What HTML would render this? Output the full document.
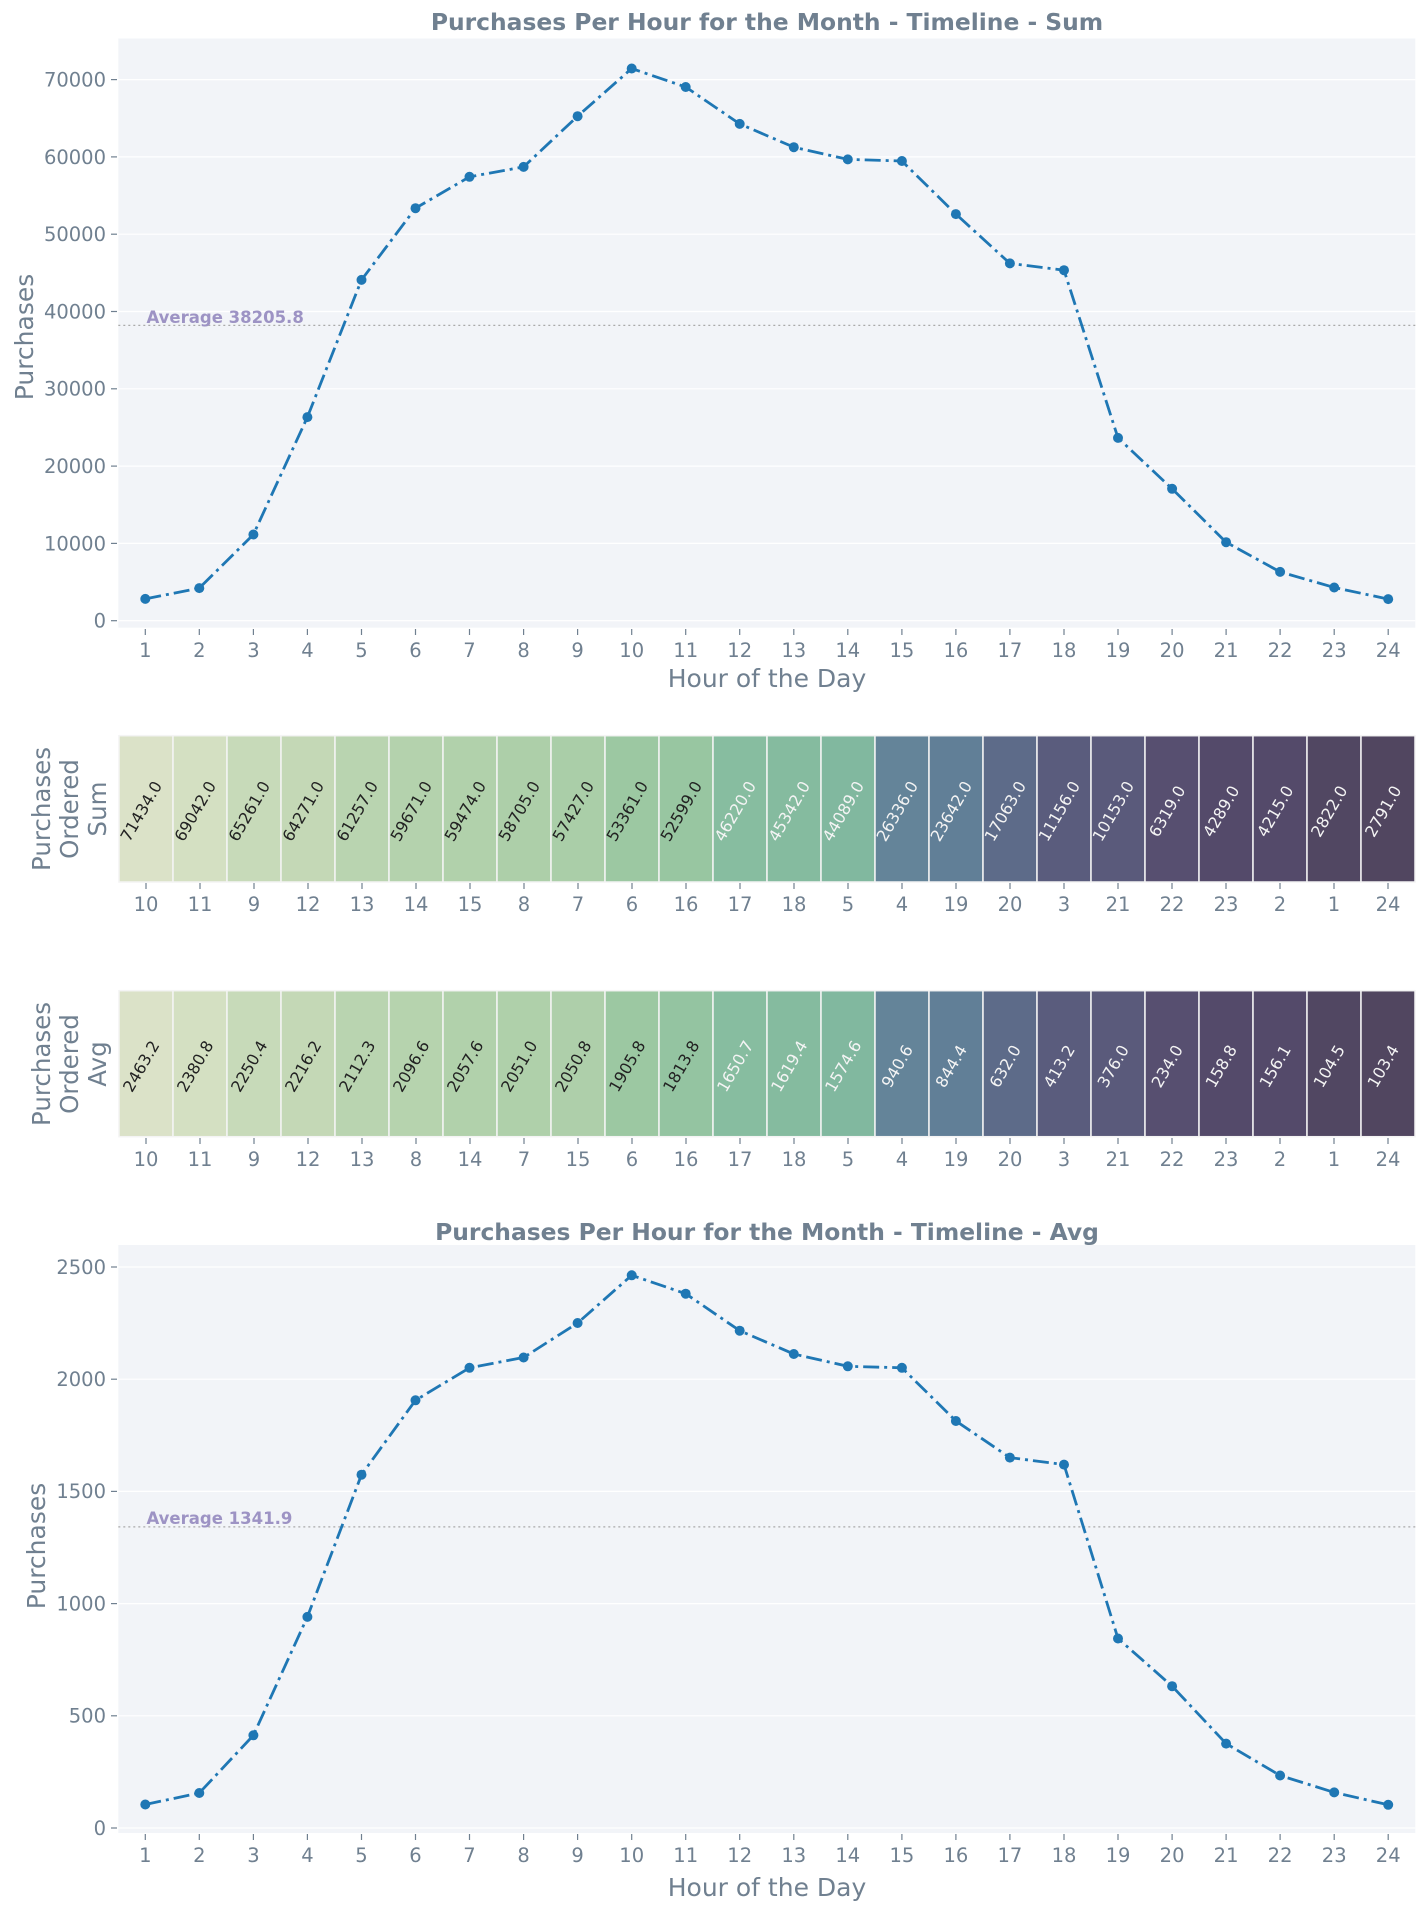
<!DOCTYPE html>
<html><head><meta charset="utf-8"><style>
html,body{margin:0;padding:0;background:#fff}
svg{display:block}
text{font-family:"DejaVu Sans","Liberation Sans",sans-serif}
.tk{fill:#708090;font-size:19.5px}
.ax{fill:#708090;font-size:25px}
.hl{fill:#708090;font-size:24.5px}
.ttl{fill:#708090;font-size:23.4px;font-weight:bold}
.grid{stroke:#fff;stroke-width:1.2}
.tick{stroke:#708090;stroke-width:1.2}
.ln{fill:none;stroke:#1f77b4;stroke-width:2.8;stroke-dasharray:16 5 3 5}
.avg{stroke:#aaa;stroke-width:1.3;stroke-dasharray:2 3}
.avgt{fill:#9d93c4;font-size:16.5px;font-weight:bold}
.hv{font-size:16px}
</style></head><body>
<svg width="1428" height="1907" viewBox="0 0 1428 1907" xmlns="http://www.w3.org/2000/svg">
<!-- TOP CHART -->
<text class="ttl" x="767" y="30" text-anchor="middle">Purchases Per Hour for the Month - Timeline - Sum</text>
<rect x="118.3" y="38.5" width="1297" height="589.2" fill="#f2f4f8"/>
<g class="grid">
<line x1="118.3" x2="1415.3" y1="620.7" y2="620.7"/><line x1="118.3" x2="1415.3" y1="543.4" y2="543.4"/>
<line x1="118.3" x2="1415.3" y1="466.1" y2="466.1"/><line x1="118.3" x2="1415.3" y1="388.8" y2="388.8"/>
<line x1="118.3" x2="1415.3" y1="311.5" y2="311.5"/><line x1="118.3" x2="1415.3" y1="234.2" y2="234.2"/>
<line x1="118.3" x2="1415.3" y1="156.9" y2="156.9"/><line x1="118.3" x2="1415.3" y1="79.6" y2="79.6"/>
</g>
<g class="tick">
<line x1="111" x2="117" y1="620.7" y2="620.7"/><line x1="111" x2="117" y1="543.4" y2="543.4"/><line x1="111" x2="117" y1="466.1" y2="466.1"/><line x1="111" x2="117" y1="388.8" y2="388.8"/><line x1="111" x2="117" y1="311.5" y2="311.5"/><line x1="111" x2="117" y1="234.2" y2="234.2"/><line x1="111" x2="117" y1="156.9" y2="156.9"/><line x1="111" x2="117" y1="79.6" y2="79.6"/>
</g>
<g class="tk" text-anchor="end">
<text x="106" y="627.5">0</text><text x="106" y="550.5">10000</text><text x="106" y="473">20000</text><text x="106" y="395.5">30000</text><text x="106" y="318.5">40000</text><text x="106" y="241">50000</text><text x="106" y="164">60000</text><text x="106" y="86.5">70000</text>
</g>
<g class="tick">
<line x1="145.3" x2="145.3" y1="629" y2="635"/><line x1="199.3" x2="199.3" y1="629" y2="635"/><line x1="253.4" x2="253.4" y1="629" y2="635"/><line x1="307.4" x2="307.4" y1="629" y2="635"/><line x1="361.5" x2="361.5" y1="629" y2="635"/><line x1="415.5" x2="415.5" y1="629" y2="635"/><line x1="469.5" x2="469.5" y1="629" y2="635"/><line x1="523.6" x2="523.6" y1="629" y2="635"/><line x1="577.6" x2="577.6" y1="629" y2="635"/><line x1="631.7" x2="631.7" y1="629" y2="635"/><line x1="685.7" x2="685.7" y1="629" y2="635"/><line x1="739.7" x2="739.7" y1="629" y2="635"/><line x1="793.8" x2="793.8" y1="629" y2="635"/><line x1="847.8" x2="847.8" y1="629" y2="635"/><line x1="901.9" x2="901.9" y1="629" y2="635"/><line x1="955.9" x2="955.9" y1="629" y2="635"/><line x1="1009.9" x2="1009.9" y1="629" y2="635"/><line x1="1064" x2="1064" y1="629" y2="635"/><line x1="1118" x2="1118" y1="629" y2="635"/><line x1="1172.1" x2="1172.1" y1="629" y2="635"/><line x1="1226.1" x2="1226.1" y1="629" y2="635"/><line x1="1280.1" x2="1280.1" y1="629" y2="635"/><line x1="1334.2" x2="1334.2" y1="629" y2="635"/><line x1="1388.2" x2="1388.2" y1="629" y2="635"/>
</g>
<g class="tk" text-anchor="middle">
<text x="145.3" y="657">1</text><text x="199.3" y="657">2</text><text x="253.4" y="657">3</text><text x="307.4" y="657">4</text><text x="361.5" y="657">5</text><text x="415.5" y="657">6</text><text x="469.5" y="657">7</text><text x="523.6" y="657">8</text><text x="577.6" y="657">9</text><text x="631.7" y="657">10</text><text x="685.7" y="657">11</text><text x="739.7" y="657">12</text><text x="793.8" y="657">13</text><text x="847.8" y="657">14</text><text x="901.9" y="657">15</text><text x="955.9" y="657">16</text><text x="1009.9" y="657">17</text><text x="1064" y="657">18</text><text x="1118" y="657">19</text><text x="1172.1" y="657">20</text><text x="1226.1" y="657">21</text><text x="1280.1" y="657">22</text><text x="1334.2" y="657">23</text><text x="1388.2" y="657">24</text>
</g>
<text class="ax" x="767" y="687" text-anchor="middle">Hour of the Day</text>
<text class="ax" transform="translate(33,337) rotate(-90)" text-anchor="middle">Purchases</text>
<line class="avg" x1="118.3" x2="1415.3" y1="325.4" y2="325.4"/>
<text class="avgt" x="146.5" y="323">Average 38205.8</text>
<polyline class="ln" points="145.3,598.9 199.3,588.1 253.4,534.5 307.4,417.1 361.5,279.9 415.5,208.2 469.5,176.8 523.6,166.9 577.6,116.2 631.7,68.5 685.7,87 739.7,123.9 793.8,147.2 847.8,159.4 901.9,161 955.9,214.1 1009.9,263.4 1064,270.2 1118,437.9 1172.1,488.8 1226.1,542.2 1280.1,571.9 1334.2,587.5 1388.2,599.1"/>
<g fill="#1f77b4">
<circle cx="145.3" cy="598.9" r="5"/><circle cx="199.3" cy="588.1" r="5"/><circle cx="253.4" cy="534.5" r="5"/><circle cx="307.4" cy="417.1" r="5"/><circle cx="361.5" cy="279.9" r="5"/><circle cx="415.5" cy="208.2" r="5"/><circle cx="469.5" cy="176.8" r="5"/><circle cx="523.6" cy="166.9" r="5"/><circle cx="577.6" cy="116.2" r="5"/><circle cx="631.7" cy="68.5" r="5"/><circle cx="685.7" cy="87" r="5"/><circle cx="739.7" cy="123.9" r="5"/><circle cx="793.8" cy="147.2" r="5"/><circle cx="847.8" cy="159.4" r="5"/><circle cx="901.9" cy="161" r="5"/><circle cx="955.9" cy="214.1" r="5"/><circle cx="1009.9" cy="263.4" r="5"/><circle cx="1064" cy="270.2" r="5"/><circle cx="1118" cy="437.9" r="5"/><circle cx="1172.1" cy="488.8" r="5"/><circle cx="1226.1" cy="542.2" r="5"/><circle cx="1280.1" cy="571.9" r="5"/><circle cx="1334.2" cy="587.5" r="5"/><circle cx="1388.2" cy="599.1" r="5"/>
</g>

<!-- HEATMAP 1 -->
<g stroke="#f4f4f4" stroke-width="1.5">
<rect x="119" y="735.7" width="54" height="146.3" fill="#dbe2c8"/>
<rect x="173" y="735.7" width="54" height="146.3" fill="#d4e0c2"/>
<rect x="227" y="735.7" width="54" height="146.3" fill="#c7dab9"/>
<rect x="281" y="735.7" width="54" height="146.3" fill="#c4d8b6"/>
<rect x="335" y="735.7" width="54" height="146.3" fill="#b9d4b0"/>
<rect x="389" y="735.7" width="54" height="146.3" fill="#b4d2ad"/>
<rect x="443" y="735.7" width="54" height="146.3" fill="#b1d1ab"/>
<rect x="497" y="735.7" width="54" height="146.3" fill="#adcfa9"/>
<rect x="551" y="735.7" width="54" height="146.3" fill="#aacea8"/>
<rect x="605" y="735.7" width="54" height="146.3" fill="#9cc8a2"/>
<rect x="659" y="735.7" width="54" height="146.3" fill="#98c6a1"/>
<rect x="713" y="735.7" width="54" height="146.3" fill="#87bda0"/>
<rect x="767" y="735.7" width="54" height="146.3" fill="#85bb9f"/>
<rect x="821" y="735.7" width="54" height="146.3" fill="#81b89f"/>
<rect x="875" y="735.7" width="54" height="146.3" fill="#648499"/>
<rect x="929" y="735.7" width="54" height="146.3" fill="#617f97"/>
<rect x="983" y="735.7" width="54" height="146.3" fill="#5d6b89"/>
<rect x="1037" y="735.7" width="54" height="146.3" fill="#5a5c7d"/>
<rect x="1091" y="735.7" width="54" height="146.3" fill="#5a5a7b"/>
<rect x="1145" y="735.7" width="54" height="146.3" fill="#574f70"/>
<rect x="1199" y="735.7" width="54" height="146.3" fill="#544a6a"/>
<rect x="1253" y="735.7" width="54" height="146.3" fill="#544a6a"/>
<rect x="1307" y="735.7" width="54" height="146.3" fill="#514762"/>
<rect x="1361" y="735.7" width="54" height="146.3" fill="#514660"/>
</g>
<g class="hv" text-anchor="middle" fill="#222">
<text transform="translate(146,814) rotate(-60)">71434.0</text>
<text transform="translate(200,814) rotate(-60)">69042.0</text>
<text transform="translate(254,814) rotate(-60)">65261.0</text>
<text transform="translate(308,814) rotate(-60)">64271.0</text>
<text transform="translate(362,814) rotate(-60)">61257.0</text>
<text transform="translate(416,814) rotate(-60)">59671.0</text>
<text transform="translate(470,814) rotate(-60)">59474.0</text>
<text transform="translate(524,814) rotate(-60)">58705.0</text>
<text transform="translate(578,814) rotate(-60)">57427.0</text>
<text transform="translate(632,814) rotate(-60)">53361.0</text>
<text transform="translate(686,814) rotate(-60)">52599.0</text>
</g>
<g class="hv" text-anchor="middle" fill="#f4f4f4">
<text transform="translate(740,814) rotate(-60)">46220.0</text>
<text transform="translate(794,814) rotate(-60)">45342.0</text>
<text transform="translate(848,814) rotate(-60)">44089.0</text>
<text transform="translate(902,814) rotate(-60)">26336.0</text>
<text transform="translate(956,814) rotate(-60)">23642.0</text>
<text transform="translate(1010,814) rotate(-60)">17063.0</text>
<text transform="translate(1064,814) rotate(-60)">11156.0</text>
<text transform="translate(1118,814) rotate(-60)">10153.0</text>
<text transform="translate(1172,814) rotate(-60)">6319.0</text>
<text transform="translate(1226,814) rotate(-60)">4289.0</text>
<text transform="translate(1280,814) rotate(-60)">4215.0</text>
<text transform="translate(1334,814) rotate(-60)">2822.0</text>
<text transform="translate(1388,814) rotate(-60)">2791.0</text>
</g>
<g class="tick">
<line x1="146" x2="146" y1="883" y2="889"/><line x1="200" x2="200" y1="883" y2="889"/><line x1="254" x2="254" y1="883" y2="889"/><line x1="308" x2="308" y1="883" y2="889"/><line x1="362" x2="362" y1="883" y2="889"/><line x1="416" x2="416" y1="883" y2="889"/><line x1="470" x2="470" y1="883" y2="889"/><line x1="524" x2="524" y1="883" y2="889"/><line x1="578" x2="578" y1="883" y2="889"/><line x1="632" x2="632" y1="883" y2="889"/><line x1="686" x2="686" y1="883" y2="889"/><line x1="740" x2="740" y1="883" y2="889"/><line x1="794" x2="794" y1="883" y2="889"/><line x1="848" x2="848" y1="883" y2="889"/><line x1="902" x2="902" y1="883" y2="889"/><line x1="956" x2="956" y1="883" y2="889"/><line x1="1010" x2="1010" y1="883" y2="889"/><line x1="1064" x2="1064" y1="883" y2="889"/><line x1="1118" x2="1118" y1="883" y2="889"/><line x1="1172" x2="1172" y1="883" y2="889"/><line x1="1226" x2="1226" y1="883" y2="889"/><line x1="1280" x2="1280" y1="883" y2="889"/><line x1="1334" x2="1334" y1="883" y2="889"/><line x1="1388" x2="1388" y1="883" y2="889"/>
</g>
<g class="tk" text-anchor="middle">
<text x="146" y="911">10</text><text x="200" y="911">11</text><text x="254" y="911">9</text><text x="308" y="911">12</text><text x="362" y="911">13</text><text x="416" y="911">14</text><text x="470" y="911">15</text><text x="524" y="911">8</text><text x="578" y="911">7</text><text x="632" y="911">6</text><text x="686" y="911">16</text><text x="740" y="911">17</text><text x="794" y="911">18</text><text x="848" y="911">5</text><text x="902" y="911">4</text><text x="956" y="911">19</text><text x="1010" y="911">20</text><text x="1064" y="911">3</text><text x="1118" y="911">21</text><text x="1172" y="911">22</text><text x="1226" y="911">23</text><text x="1280" y="911">2</text><text x="1334" y="911">1</text><text x="1388" y="911">24</text>
</g>
<g class="hl" text-anchor="middle">
<text transform="translate(50,809) rotate(-90)">Purchases</text>
<text transform="translate(78,809) rotate(-90)">Ordered</text>
<text transform="translate(106,809) rotate(-90)">Sum</text>
</g>

<!-- HEATMAP 2 -->
<g stroke="#f4f4f4" stroke-width="1.5">
<rect x="119" y="990.7" width="54" height="146" fill="#dbe2c8"/>
<rect x="173" y="990.7" width="54" height="146" fill="#d4e0c2"/>
<rect x="227" y="990.7" width="54" height="146" fill="#c7dab9"/>
<rect x="281" y="990.7" width="54" height="146" fill="#c4d8b6"/>
<rect x="335" y="990.7" width="54" height="146" fill="#b9d4b0"/>
<rect x="389" y="990.7" width="54" height="146" fill="#b6d3ae"/>
<rect x="443" y="990.7" width="54" height="146" fill="#b1d1ab"/>
<rect x="497" y="990.7" width="54" height="146" fill="#afd0aa"/>
<rect x="551" y="990.7" width="54" height="146" fill="#aecfaa"/>
<rect x="605" y="990.7" width="54" height="146" fill="#9cc8a2"/>
<rect x="659" y="990.7" width="54" height="146" fill="#94c4a1"/>
<rect x="713" y="990.7" width="54" height="146" fill="#87bda0"/>
<rect x="767" y="990.7" width="54" height="146" fill="#85bb9f"/>
<rect x="821" y="990.7" width="54" height="146" fill="#81b89f"/>
<rect x="875" y="990.7" width="54" height="146" fill="#648499"/>
<rect x="929" y="990.7" width="54" height="146" fill="#617f97"/>
<rect x="983" y="990.7" width="54" height="146" fill="#5d6b89"/>
<rect x="1037" y="990.7" width="54" height="146" fill="#5a5c7d"/>
<rect x="1091" y="990.7" width="54" height="146" fill="#5a5a7b"/>
<rect x="1145" y="990.7" width="54" height="146" fill="#574f70"/>
<rect x="1199" y="990.7" width="54" height="146" fill="#544a6a"/>
<rect x="1253" y="990.7" width="54" height="146" fill="#544a6a"/>
<rect x="1307" y="990.7" width="54" height="146" fill="#514762"/>
<rect x="1361" y="990.7" width="54" height="146" fill="#514660"/>
</g>
<g class="hv" text-anchor="middle" fill="#222">
<text transform="translate(146,1069) rotate(-60)">2463.2</text>
<text transform="translate(200,1069) rotate(-60)">2380.8</text>
<text transform="translate(254,1069) rotate(-60)">2250.4</text>
<text transform="translate(308,1069) rotate(-60)">2216.2</text>
<text transform="translate(362,1069) rotate(-60)">2112.3</text>
<text transform="translate(416,1069) rotate(-60)">2096.6</text>
<text transform="translate(470,1069) rotate(-60)">2057.6</text>
<text transform="translate(524,1069) rotate(-60)">2051.0</text>
<text transform="translate(578,1069) rotate(-60)">2050.8</text>
<text transform="translate(632,1069) rotate(-60)">1905.8</text>
<text transform="translate(686,1069) rotate(-60)">1813.8</text>
</g>
<g class="hv" text-anchor="middle" fill="#f4f4f4">
<text transform="translate(740,1069) rotate(-60)">1650.7</text>
<text transform="translate(794,1069) rotate(-60)">1619.4</text>
<text transform="translate(848,1069) rotate(-60)">1574.6</text>
<text transform="translate(902,1069) rotate(-60)">940.6</text>
<text transform="translate(956,1069) rotate(-60)">844.4</text>
<text transform="translate(1010,1069) rotate(-60)">632.0</text>
<text transform="translate(1064,1069) rotate(-60)">413.2</text>
<text transform="translate(1118,1069) rotate(-60)">376.0</text>
<text transform="translate(1172,1069) rotate(-60)">234.0</text>
<text transform="translate(1226,1069) rotate(-60)">158.8</text>
<text transform="translate(1280,1069) rotate(-60)">156.1</text>
<text transform="translate(1334,1069) rotate(-60)">104.5</text>
<text transform="translate(1388,1069) rotate(-60)">103.4</text>
</g>
<g class="tick">
<line x1="146" x2="146" y1="1138" y2="1144"/><line x1="200" x2="200" y1="1138" y2="1144"/><line x1="254" x2="254" y1="1138" y2="1144"/><line x1="308" x2="308" y1="1138" y2="1144"/><line x1="362" x2="362" y1="1138" y2="1144"/><line x1="416" x2="416" y1="1138" y2="1144"/><line x1="470" x2="470" y1="1138" y2="1144"/><line x1="524" x2="524" y1="1138" y2="1144"/><line x1="578" x2="578" y1="1138" y2="1144"/><line x1="632" x2="632" y1="1138" y2="1144"/><line x1="686" x2="686" y1="1138" y2="1144"/><line x1="740" x2="740" y1="1138" y2="1144"/><line x1="794" x2="794" y1="1138" y2="1144"/><line x1="848" x2="848" y1="1138" y2="1144"/><line x1="902" x2="902" y1="1138" y2="1144"/><line x1="956" x2="956" y1="1138" y2="1144"/><line x1="1010" x2="1010" y1="1138" y2="1144"/><line x1="1064" x2="1064" y1="1138" y2="1144"/><line x1="1118" x2="1118" y1="1138" y2="1144"/><line x1="1172" x2="1172" y1="1138" y2="1144"/><line x1="1226" x2="1226" y1="1138" y2="1144"/><line x1="1280" x2="1280" y1="1138" y2="1144"/><line x1="1334" x2="1334" y1="1138" y2="1144"/><line x1="1388" x2="1388" y1="1138" y2="1144"/>
</g>
<g class="tk" text-anchor="middle">
<text x="146" y="1166">10</text><text x="200" y="1166">11</text><text x="254" y="1166">9</text><text x="308" y="1166">12</text><text x="362" y="1166">13</text><text x="416" y="1166">8</text><text x="470" y="1166">14</text><text x="524" y="1166">7</text><text x="578" y="1166">15</text><text x="632" y="1166">6</text><text x="686" y="1166">16</text><text x="740" y="1166">17</text><text x="794" y="1166">18</text><text x="848" y="1166">5</text><text x="902" y="1166">4</text><text x="956" y="1166">19</text><text x="1010" y="1166">20</text><text x="1064" y="1166">3</text><text x="1118" y="1166">21</text><text x="1172" y="1166">22</text><text x="1226" y="1166">23</text><text x="1280" y="1166">2</text><text x="1334" y="1166">1</text><text x="1388" y="1166">24</text>
</g>
<g class="hl" text-anchor="middle">
<text transform="translate(50,1064) rotate(-90)">Purchases</text>
<text transform="translate(78,1064) rotate(-90)">Ordered</text>
<text transform="translate(106,1064) rotate(-90)">Avg</text>
</g>

<!-- BOTTOM CHART -->
<text class="ttl" x="767" y="1240" text-anchor="middle">Purchases Per Hour for the Month - Timeline - Avg</text>
<rect x="118.3" y="1245" width="1297" height="588" fill="#f2f4f8"/>
<g class="grid">
<line x1="118.3" x2="1415.3" y1="1828" y2="1828"/><line x1="118.3" x2="1415.3" y1="1715.8" y2="1715.8"/><line x1="118.3" x2="1415.3" y1="1603.6" y2="1603.6"/><line x1="118.3" x2="1415.3" y1="1491.4" y2="1491.4"/><line x1="118.3" x2="1415.3" y1="1379.2" y2="1379.2"/><line x1="118.3" x2="1415.3" y1="1267" y2="1267"/>
</g>
<g class="tick">
<line x1="111" x2="117" y1="1828" y2="1828"/><line x1="111" x2="117" y1="1715.8" y2="1715.8"/><line x1="111" x2="117" y1="1603.6" y2="1603.6"/><line x1="111" x2="117" y1="1491.4" y2="1491.4"/><line x1="111" x2="117" y1="1379.2" y2="1379.2"/><line x1="111" x2="117" y1="1267" y2="1267"/>
</g>
<g class="tk" text-anchor="end">
<text x="106" y="1835">0</text><text x="106" y="1722.5">500</text><text x="106" y="1610.5">1000</text><text x="106" y="1498">1500</text><text x="106" y="1386">2000</text><text x="106" y="1274">2500</text>
</g>
<g class="tick">
<line x1="145.3" x2="145.3" y1="1834" y2="1840"/><line x1="199.3" x2="199.3" y1="1834" y2="1840"/><line x1="253.4" x2="253.4" y1="1834" y2="1840"/><line x1="307.4" x2="307.4" y1="1834" y2="1840"/><line x1="361.5" x2="361.5" y1="1834" y2="1840"/><line x1="415.5" x2="415.5" y1="1834" y2="1840"/><line x1="469.5" x2="469.5" y1="1834" y2="1840"/><line x1="523.6" x2="523.6" y1="1834" y2="1840"/><line x1="577.6" x2="577.6" y1="1834" y2="1840"/><line x1="631.7" x2="631.7" y1="1834" y2="1840"/><line x1="685.7" x2="685.7" y1="1834" y2="1840"/><line x1="739.7" x2="739.7" y1="1834" y2="1840"/><line x1="793.8" x2="793.8" y1="1834" y2="1840"/><line x1="847.8" x2="847.8" y1="1834" y2="1840"/><line x1="901.9" x2="901.9" y1="1834" y2="1840"/><line x1="955.9" x2="955.9" y1="1834" y2="1840"/><line x1="1009.9" x2="1009.9" y1="1834" y2="1840"/><line x1="1064" x2="1064" y1="1834" y2="1840"/><line x1="1118" x2="1118" y1="1834" y2="1840"/><line x1="1172.1" x2="1172.1" y1="1834" y2="1840"/><line x1="1226.1" x2="1226.1" y1="1834" y2="1840"/><line x1="1280.1" x2="1280.1" y1="1834" y2="1840"/><line x1="1334.2" x2="1334.2" y1="1834" y2="1840"/><line x1="1388.2" x2="1388.2" y1="1834" y2="1840"/>
</g>
<g class="tk" text-anchor="middle">
<text x="145.3" y="1862">1</text><text x="199.3" y="1862">2</text><text x="253.4" y="1862">3</text><text x="307.4" y="1862">4</text><text x="361.5" y="1862">5</text><text x="415.5" y="1862">6</text><text x="469.5" y="1862">7</text><text x="523.6" y="1862">8</text><text x="577.6" y="1862">9</text><text x="631.7" y="1862">10</text><text x="685.7" y="1862">11</text><text x="739.7" y="1862">12</text><text x="793.8" y="1862">13</text><text x="847.8" y="1862">14</text><text x="901.9" y="1862">15</text><text x="955.9" y="1862">16</text><text x="1009.9" y="1862">17</text><text x="1064" y="1862">18</text><text x="1118" y="1862">19</text><text x="1172.1" y="1862">20</text><text x="1226.1" y="1862">21</text><text x="1280.1" y="1862">22</text><text x="1334.2" y="1862">23</text><text x="1388.2" y="1862">24</text>
</g>
<text class="ax" x="767" y="1896" text-anchor="middle">Hour of the Day</text>
<text class="ax" transform="translate(45,1546) rotate(-90)" text-anchor="middle">Purchases</text>
<line class="avg" x1="118.3" x2="1415.3" y1="1526.9" y2="1526.9"/>
<text class="avgt" x="146.5" y="1524">Average 1341.9</text>
<polyline class="ln" points="145.3,1804.5 199.3,1793 253.4,1735.3 307.4,1616.9 361.5,1474.7 415.5,1400.3 469.5,1367.8 523.6,1357.5 577.6,1323 631.7,1275.3 685.7,1293.7 739.7,1330.7 793.8,1354 847.8,1366.3 901.9,1367.8 955.9,1421 1009.9,1457.6 1064,1464.6 1118,1638.5 1172.1,1686.2 1226.1,1743.6 1280.1,1775.5 1334.2,1792.4 1388.2,1804.8"/>
<g fill="#1f77b4">
<circle cx="145.3" cy="1804.5" r="5"/><circle cx="199.3" cy="1793" r="5"/><circle cx="253.4" cy="1735.3" r="5"/><circle cx="307.4" cy="1616.9" r="5"/><circle cx="361.5" cy="1474.7" r="5"/><circle cx="415.5" cy="1400.3" r="5"/><circle cx="469.5" cy="1367.8" r="5"/><circle cx="523.6" cy="1357.5" r="5"/><circle cx="577.6" cy="1323" r="5"/><circle cx="631.7" cy="1275.3" r="5"/><circle cx="685.7" cy="1293.7" r="5"/><circle cx="739.7" cy="1330.7" r="5"/><circle cx="793.8" cy="1354" r="5"/><circle cx="847.8" cy="1366.3" r="5"/><circle cx="901.9" cy="1367.8" r="5"/><circle cx="955.9" cy="1421" r="5"/><circle cx="1009.9" cy="1457.6" r="5"/><circle cx="1064" cy="1464.6" r="5"/><circle cx="1118" cy="1638.5" r="5"/><circle cx="1172.1" cy="1686.2" r="5"/><circle cx="1226.1" cy="1743.6" r="5"/><circle cx="1280.1" cy="1775.5" r="5"/><circle cx="1334.2" cy="1792.4" r="5"/><circle cx="1388.2" cy="1804.8" r="5"/>
</g>
</svg>
</body></html>
